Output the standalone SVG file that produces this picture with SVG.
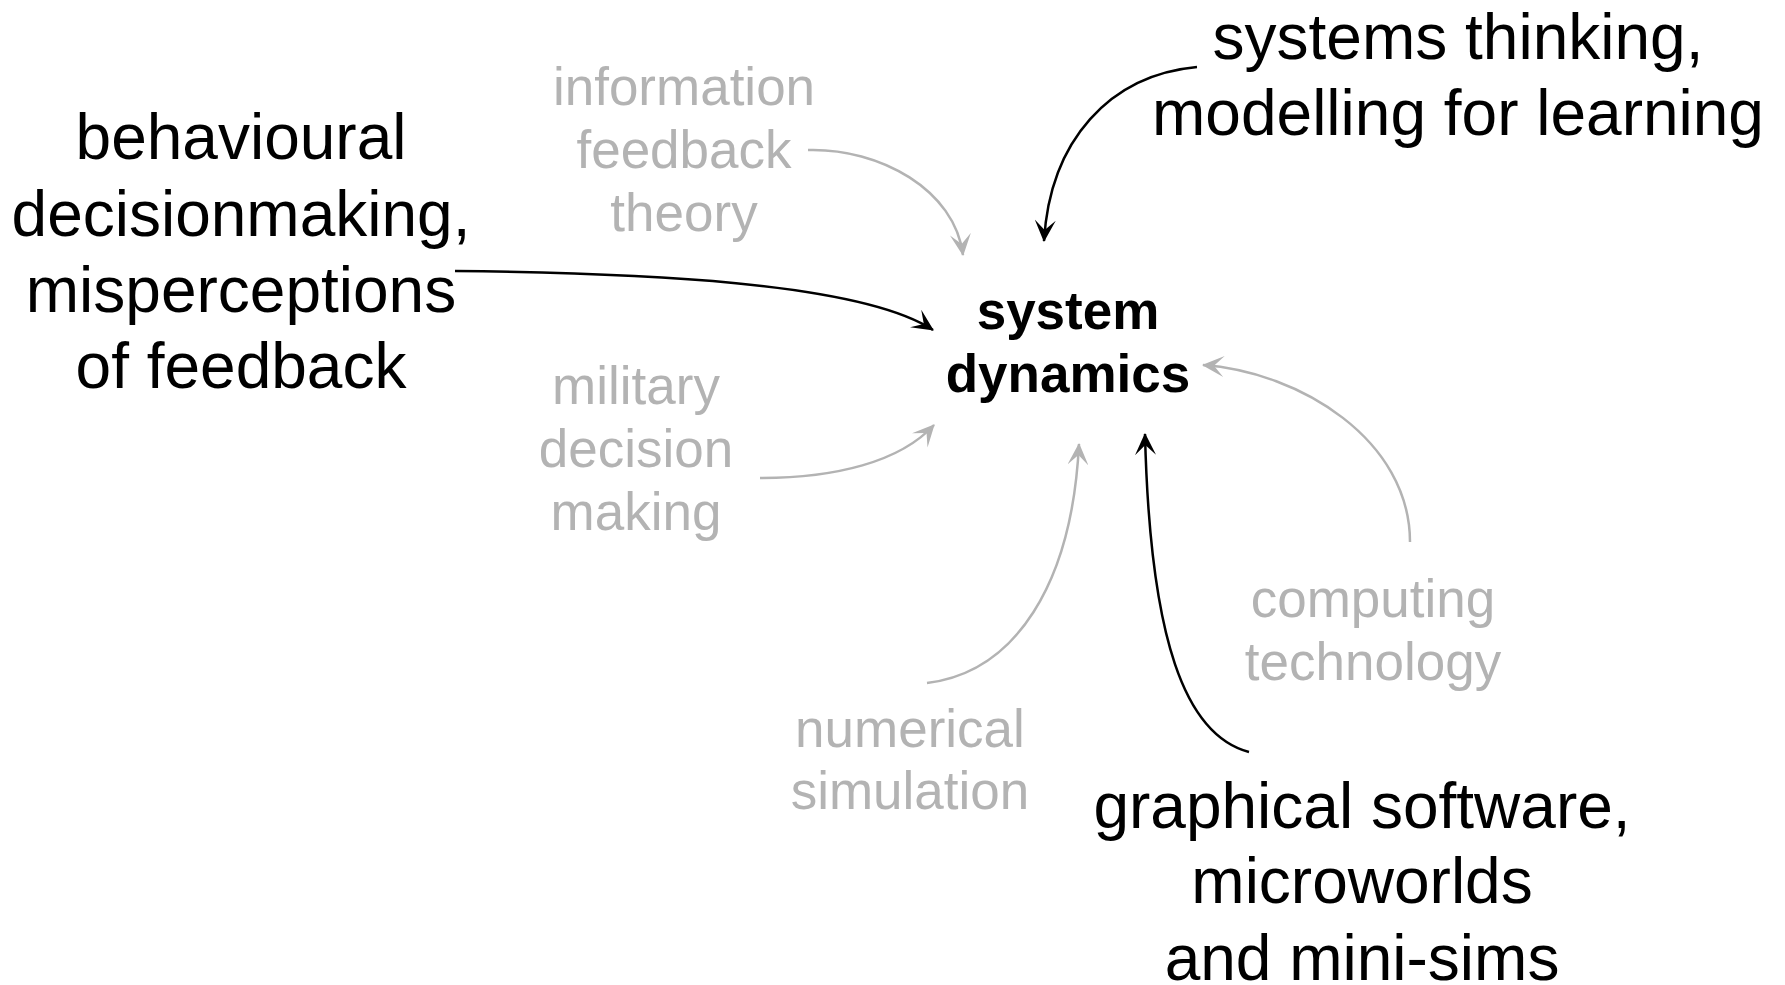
<svg xmlns="http://www.w3.org/2000/svg" width="1785" height="985" viewBox="0 0 1785 985">
  <defs>
    <style>
      text { font-family: "Liberation Sans", Arial, sans-serif; text-anchor: middle; }
      .major { font-size: 64px; fill: #000000; }
      .minor { font-size: 53px; fill: #b3b3b3; }
      .core { font-size: 53px; font-weight: bold; fill: #000000; }
      .link { fill: none; stroke-width: 2.5; }
      .dark { stroke: #000000; marker-end: url(#headDark); }
      .light { stroke: #b3b3b3; marker-end: url(#headLight); }
    </style>
    <!-- barbed arrowheads -->
    <marker id="headDark" viewBox="0 0 22 21" refX="21" refY="10.5" markerWidth="22" markerHeight="21" markerUnits="userSpaceOnUse" orient="auto">
      <path d="M0,0 L22,10.5 L0,21 L10,10.5 Z" fill="#000000"/>
    </marker>
    <marker id="headLight" viewBox="0 0 22 21" refX="21" refY="10.5" markerWidth="22" markerHeight="21" markerUnits="userSpaceOnUse" orient="auto">
      <path d="M0,0 L22,10.5 L0,21 L10,10.5 Z" fill="#b3b3b3"/>
    </marker>
  </defs>

  <rect width="1785" height="985" fill="#ffffff"/>

  <g id="connectors">
    <!-- information feedback theory -> system dynamics -->
    <path class="link light" d="M808,150 C880,148 955,190 963,255"/>
    <!-- behavioural decisionmaking -> system dynamics -->
    <path class="link dark" d="M455,271 C640,273 860,282 933,330"/>
    <!-- systems thinking -> system dynamics -->
    <path class="link dark" d="M1197,67 C1110,75 1050,140 1044,241"/>
    <!-- military decision making -> system dynamics -->
    <path class="link light" d="M760,478 C835,478 900,462 934,425"/>
    <!-- numerical simulation -> system dynamics -->
    <path class="link light" d="M927,683 C1015,672 1072,585 1079,444"/>
    <!-- graphical software -> system dynamics -->
    <path class="link dark" d="M1249,752 C1185,735 1150,640 1145,434"/>
    <!-- computing technology -> system dynamics -->
    <path class="link light" d="M1410,542 C1410,440 1300,372 1203,365"/>
  </g>

  <g id="system-dynamics">
    <text class="core" x="1068" y="329">system</text>
    <text class="core" x="1068" y="392">dynamics</text>
  </g>

  <g id="behavioural-decisionmaking">
    <text class="major" x="241" y="159">behavioural</text>
    <text class="major" x="241" y="236">decisionmaking,</text>
    <text class="major" x="241" y="312">misperceptions</text>
    <text class="major" x="241" y="388">of feedback</text>
  </g>

  <g id="systems-thinking">
    <text class="major" x="1458" y="59">systems thinking,</text>
    <text class="major" x="1458" y="135">modelling for learning</text>
  </g>

  <g id="graphical-software">
    <text class="major" x="1362" y="828">graphical software,</text>
    <text class="major" x="1362" y="903">microworlds</text>
    <text class="major" x="1362" y="980">and mini-sims</text>
  </g>

  <g id="information-feedback-theory">
    <text class="minor" x="684" y="105">information</text>
    <text class="minor" x="684" y="168">feedback</text>
    <text class="minor" x="684" y="231">theory</text>
  </g>

  <g id="military-decision-making">
    <text class="minor" x="636" y="404">military</text>
    <text class="minor" x="636" y="467">decision</text>
    <text class="minor" x="636" y="530">making</text>
  </g>

  <g id="numerical-simulation">
    <text class="minor" x="910" y="747">numerical</text>
    <text class="minor" x="910" y="809">simulation</text>
  </g>

  <g id="computing-technology">
    <text class="minor" x="1373" y="617">computing</text>
    <text class="minor" x="1373" y="680">technology</text>
  </g>
</svg>
